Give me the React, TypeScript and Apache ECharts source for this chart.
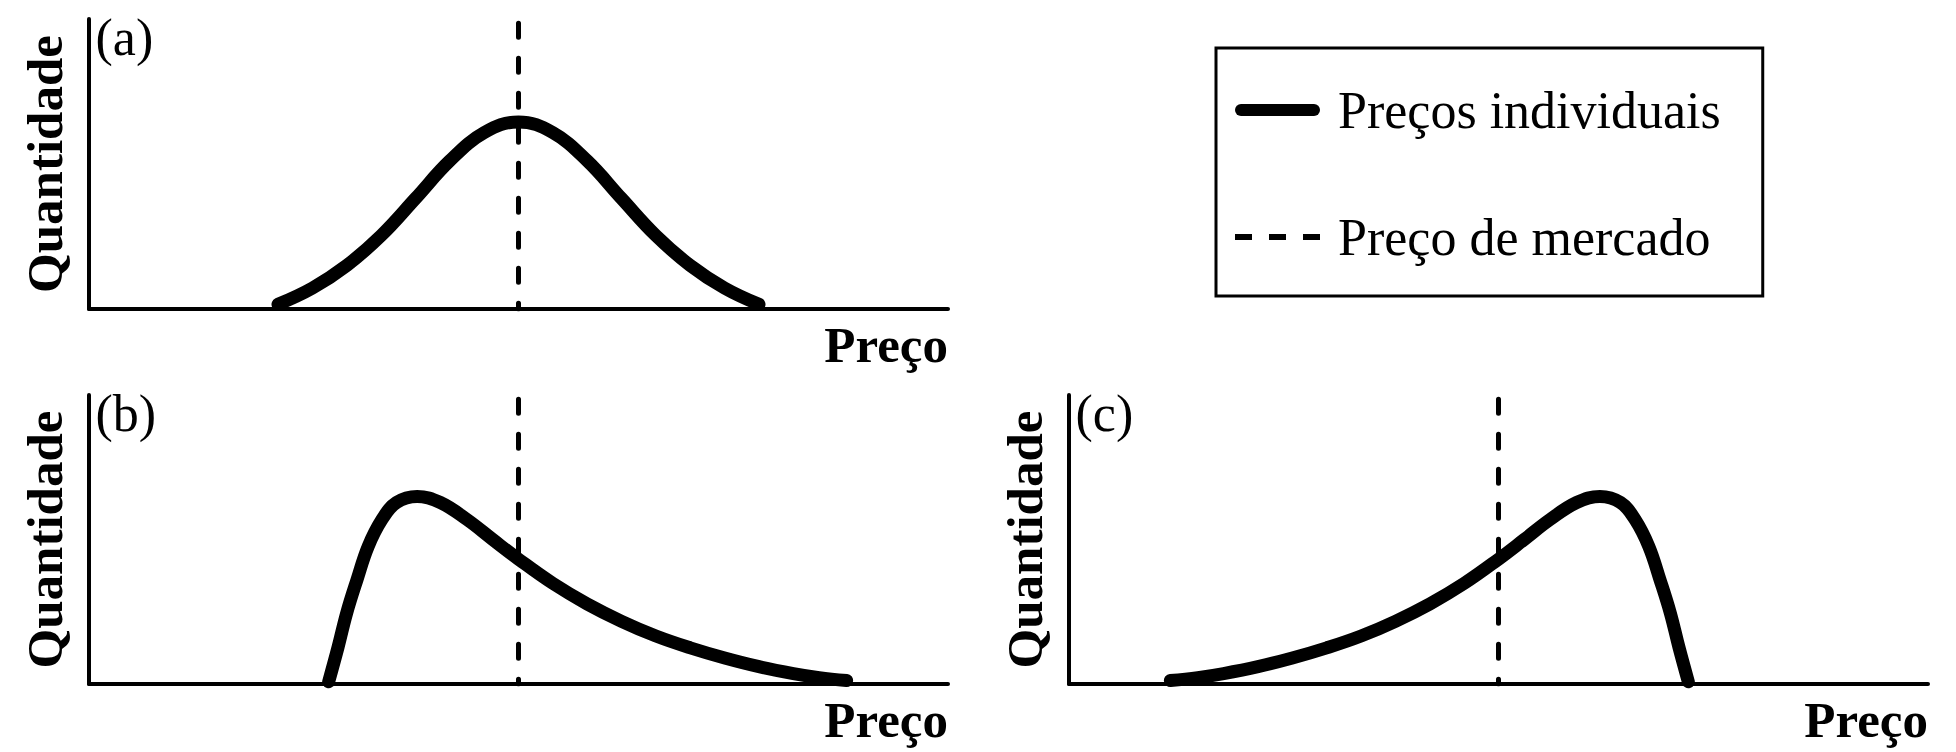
import React, { useEffect, useRef } from 'react';
import * as echarts from 'echarts';

const FONT = '"Liberation Serif", "Times New Roman", Times, serif';

// ---- data ----
const panelLabels = ['(a)', '(b)', '(c)'];
const xAxisName = 'Preço';
const yAxisName = 'Quantidade';
const curveName = 'Preços individuais';
const marketName = 'Preço de mercado';

const priceMin = 0;
const priceMax = 10;
const qtyMin = 0;
const qtyMax = 1;

const marketPrice = 5;
const marketLineTop = 0.985;

// (a) symmetric distribution
const curveA: [number, number][] = [
  [2.2, 0.016], [2.6, 0.072], [3.0, 0.15], [3.4, 0.253], [3.8, 0.381],
  [4.2, 0.511], [4.6, 0.608], [5.0, 0.645], [5.4, 0.608], [5.8, 0.511],
  [6.2, 0.381], [6.6, 0.253], [7.0, 0.15], [7.4, 0.072], [7.8, 0.016],
];

// (b) right-skewed distribution
const curveB: [number, number][] = [
  [2.79, 0.008], [2.9, 0.128], [3.0, 0.246], [3.12, 0.361], [3.25, 0.476],
  [3.41, 0.569], [3.58, 0.628], [3.82, 0.649], [4.09, 0.628], [4.4, 0.569],
  [4.7, 0.5], [5.0, 0.432], [5.4, 0.348], [5.8, 0.277], [6.2, 0.217],
  [6.6, 0.166], [7.0, 0.125], [7.4, 0.09], [7.8, 0.06], [8.2, 0.036],
  [8.5, 0.022], [8.82, 0.012],
];

// (c) left-skewed distribution
const curveC: [number, number][] = [
  [1.18, 0.012], [1.5, 0.022], [1.8, 0.036], [2.2, 0.06], [2.6, 0.09],
  [3.0, 0.125], [3.4, 0.166], [3.8, 0.217], [4.2, 0.277], [4.6, 0.348],
  [5.0, 0.432], [5.3, 0.5], [5.6, 0.569], [5.91, 0.628], [6.18, 0.649],
  [6.42, 0.628], [6.59, 0.569], [6.75, 0.476], [6.88, 0.361], [7.0, 0.246],
  [7.1, 0.128], [7.21, 0.008],
];

const curves = [curveA, curveB, curveC];

const SOLID_ICON = 'path://M6,0L79,0A6,6,0,0,1,79,12L6,12A6,6,0,0,1,6,0Z';
const DASH_ICON = 'path://M0,0H17V6H0Z M34,0H51V6H34Z M68,0H85V6H68Z';

export default function App() {
  const ref = useRef<HTMLDivElement>(null);

  useEffect(() => {
    document.body.style.margin = '0';
    if (!ref.current) return;
    const chart = echarts.init(ref.current, null, { renderer: 'svg' });

    const grids = [
      { left: 89, top: 19, width: 859, height: 290 },
      { left: 89, top: 395, width: 859, height: 289 },
      { left: 1069, top: 395, width: 859, height: 289 },
    ];

    const nameStyle = {
      fontFamily: FONT,
      fontSize: 51,
      fontWeight: 'bold' as const,
      color: '#000',
    };

    const option: any = {
      animation: false,
      backgroundColor: '#fff',
      color: ['#000'],
      title: panelLabels.map((t, i) => ({
        text: t,
        left: grids[i].left + 6.5,
        top: grids[i].top - 7.5,
        padding: 0,
        textStyle: { fontFamily: FONT, fontSize: 52, fontWeight: 'normal', color: '#000' },
      })),
      legend: {
        show: true,
        orient: 'vertical',
        left: 1216,
        top: 48,
        selectedMode: false,
        padding: [36, 42, 33, 19],
        itemGap: 75,
        itemWidth: 85,
        itemHeight: 12,
        symbolKeepAspect: true,
        borderColor: '#000',
        borderWidth: 3,
        backgroundColor: '#fff',
        itemStyle: { borderWidth: 0, color: '#000' },
        textStyle: { fontFamily: FONT, fontSize: 52, color: '#000', padding: [0, 0, 0, 13] },
        data: [
          { name: curveName, icon: SOLID_ICON },
          { name: marketName, icon: DASH_ICON },
        ],
      },
      grid: grids,
      xAxis: grids.map((_, i) => ({
        gridIndex: i,
        type: 'value',
        min: priceMin,
        max: priceMax,
        axisLine: { show: true, onZero: false, lineStyle: { color: '#000', width: 4 } },
        axisTick: { show: false },
        axisLabel: { show: false },
        splitLine: { show: false },
        name: xAxisName,
        nameLocation: 'end',
        nameGap: 0,
        nameTextStyle: { ...nameStyle, align: 'right', verticalAlign: 'top', padding: [10, 0, 0, 0] },
      })),
      yAxis: grids.map((_, i) => ({
        gridIndex: i,
        type: 'value',
        min: qtyMin,
        max: qtyMax,
        axisLine: { show: true, onZero: false, lineStyle: { color: '#000', width: 4 } },
        axisTick: { show: false },
        axisLabel: { show: false },
        splitLine: { show: false },
        name: yAxisName,
        nameLocation: 'middle',
        nameRotate: 90,
        nameGap: 19,
        nameTextStyle: { ...nameStyle },
      })),
      series: [
        ...curves.map((data, i) => ({
          type: 'line',
          name: curveName,
          xAxisIndex: i,
          yAxisIndex: i,
          data,
          smooth: 0.4,
          symbol: 'none',
          showSymbol: false,
          silent: true,
          itemStyle: { color: '#000' },
          lineStyle: { color: '#000', width: 13, cap: 'round', join: 'round' },
          z: 2,
        })),
        ...curves.map((_, i) => ({
          type: 'line',
          name: marketName,
          xAxisIndex: i,
          yAxisIndex: i,
          data: [
            [marketPrice, marketLineTop],
            [marketPrice, qtyMin],
          ],
          symbol: 'none',
          showSymbol: false,
          silent: true,
          itemStyle: { color: '#000' },
          lineStyle: { color: '#000', width: 5, type: [14, 21], cap: 'round' },
          z: 3,
        })),
      ],
    };

    chart.setOption(option);
    return () => chart.dispose();
  }, []);

  return <div ref={ref} style={{ width: 1956, height: 752 }} />;
}
